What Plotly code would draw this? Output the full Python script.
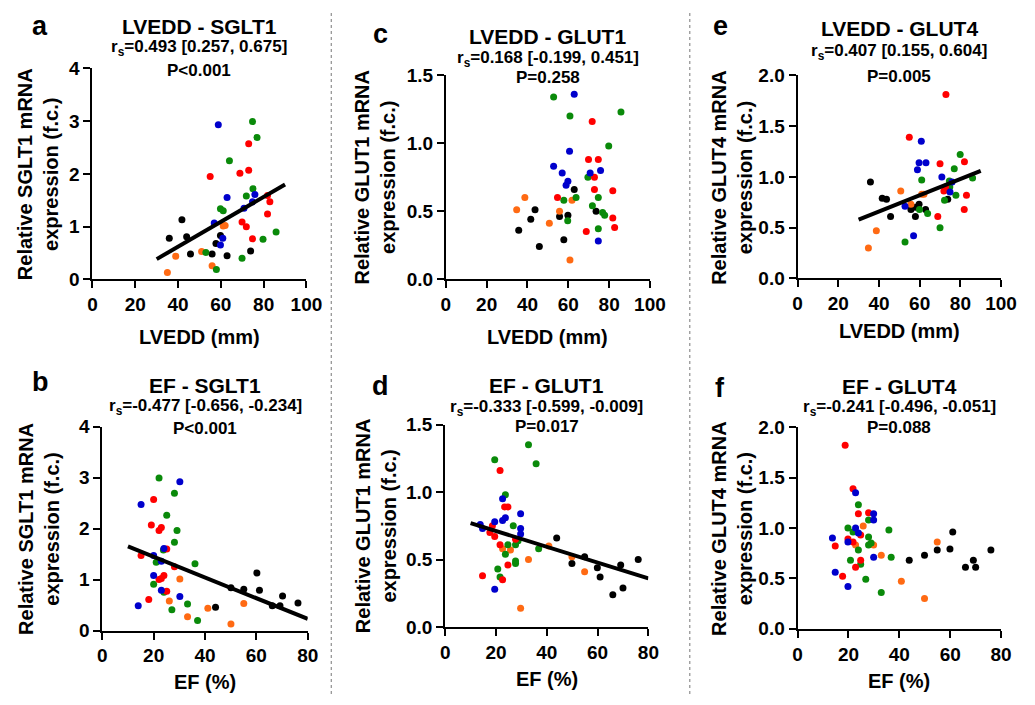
import plotly.graph_objects as go

W, H = 1035, 705

# group colours (k=black, o=orange, g=green, r=red, b=blue)
colours = {"k": "#000000", "o": "#FF6A13", "g": "#0A8A0A", "r": "#FF0000", "b": "#0000CC"}

# ---- a: LVEDD vs SGLT1
a_x = [58.8, 62.9, 75.9, 74.8, 70.8, 56.9, 60.9, 59.8,
       74.8, 76.9, 64.0, 75.0, 71.9, 59.8, 61.1, 85.8, 79.7, 53.0, 69.9, 57.9,
       73.0, 55.0, 68.9, 73.0, 81.8, 82.9, 81.8, 69.9, 71.9, 74.8,
       41.8, 35.9, 44.0, 59.8, 57.7, 45.8, 55.9, 62.9, 73.9,
       61.1, 62.0, 38.9, 51.0, 55.9, 35.0]
a_y = [2.93, 1.55, 1.61, 1.47, 1.35, 1.07, 0.78, 0.65,
       2.99, 2.69, 2.25, 1.72, 1.58, 1.34, 1.30, 0.90, 0.76, 0.51, 0.40, 0.19,
       2.57, 1.95, 2.01, 2.07, 1.59, 1.47, 1.24, 1.09, 1.00, 0.77,
       1.13, 0.78, 0.81, 0.83, 0.68, 0.48, 0.48, 0.45, 0.54,
       1.01, 1.02, 0.44, 0.53, 0.26, 0.13]
a_g = ["b"] * 8 + ["g"] * 12 + ["r"] * 10 + ["k"] * 9 + ["o"] * 6
a_fit_x = [30, 90]
a_fit_y = [0.385, 1.80]

# ---- b: EF vs SGLT1
b_x = [30.2, 15.1, 24.0, 20.0, 23.0, 20.0, 23.0, 30.2, 14.0,
       22.1, 28.1, 25.1, 29.1, 28.1, 23.8, 21.0, 36.1, 20.0, 24.0, 33.2, 27.1, 37.1,
       20.0, 19.1, 23.0, 22.1, 25.1, 15.1, 28.1, 24.0, 23.0, 22.1, 25.1, 18.1,
       60.2, 50.1, 55.1, 61.2, 70.2, 66.2, 69.2, 76.2, 44.1,
       30.2, 26.1, 55.1, 41.1, 33.2, 50.1]
b_y = [2.92, 2.47, 1.61, 1.47, 1.36, 1.08, 0.79, 0.67, 0.49,
       2.99, 2.69, 2.26, 1.96, 1.73, 1.58, 1.34, 1.31, 0.91, 0.75, 0.52, 0.41, 0.20,
       2.57, 2.07, 2.02, 1.96, 1.60, 1.47, 1.25, 1.08, 1.02, 1.00, 0.77, 0.61,
       1.13, 0.84, 0.81, 0.79, 0.68, 0.49, 0.49, 0.54, 0.46,
       1.01, 0.58, 0.53, 0.44, 0.27, 0.13]
b_g = ["b"] * 9 + ["g"] * 13 + ["r"] * 12 + ["k"] * 9 + ["o"] * 6
b_fit_x = [10, 80]
b_fit_y = [1.65, 0.23]

# ---- c: LVEDD vs GLUT1
c_x = [62.9, 60.6, 52.8, 57.0, 70.7, 75.8, 59.8, 58.9, 74.7,
       52.8, 60.8, 85.8, 79.8, 69.6, 57.8, 63.8, 74.7, 71.8, 76.8, 77.8, 59.7, 74.7,
       71.7, 69.9, 74.7, 72.8, 72.8, 81.8, 54.7, 81.8, 82.7, 68.8,
       62.9, 43.7, 73.6, 55.7, 59.8, 41.6, 35.7, 57.8, 45.8,
       38.7, 61.8, 34.7, 55.7, 50.7, 60.8]
c_y = [1.36, 0.94, 0.83, 0.78, 0.78, 0.80, 0.72, 0.69, 0.28,
       1.34, 1.20, 1.23, 0.98, 0.75, 0.58, 0.60, 0.60, 0.54, 0.49, 0.47, 0.43, 0.37,
       1.16, 0.88, 0.88, 0.75, 0.66, 0.65, 0.60, 0.45, 0.38, 0.35,
       0.66, 0.51, 0.50, 0.46, 0.47, 0.44, 0.36, 0.29, 0.24,
       0.60, 0.58, 0.51, 0.50, 0.41, 0.14]
c_g = ["b"] * 9 + ["g"] * 13 + ["r"] * 10 + ["k"] * 9 + ["o"] * 6

# ---- d: EF vs GLUT1
d_x = [22.6, 29.7, 23.7, 22.6, 19.5, 13.8, 14.7, 29.7, 29.7, 19.5,
       32.8, 35.8, 19.5, 23.7, 26.8, 28.7, 24.7, 27.7, 36.8, 23.7, 27.7, 27.7, 20.7, 21.6,
       21.6, 23.4, 24.7, 18.6, 17.6, 19.5, 27.7, 21.6, 24.7, 14.7, 22.6,
       43.9, 54.9, 76.0, 49.9, 69.1, 59.9, 61.0, 70.0, 66.0,
       40.8, 22.6, 25.7, 49.9, 32.8, 54.9, 29.7]
d_y = [0.95, 0.84, 0.81, 0.79, 0.78, 0.76, 0.73, 0.73, 0.69, 0.28,
       1.35, 1.21, 1.24, 0.98, 0.75, 0.64, 0.61, 0.61, 0.58, 0.54, 0.49, 0.47, 0.43, 0.37,
       1.16, 0.89, 0.89, 0.75, 0.70, 0.67, 0.65, 0.61, 0.46, 0.38, 0.35,
       0.66, 0.52, 0.50, 0.47, 0.46, 0.44, 0.37, 0.29, 0.24,
       0.60, 0.58, 0.57, 0.52, 0.50, 0.41, 0.14]
d_g = ["b"] * 10 + ["g"] * 14 + ["r"] * 11 + ["k"] * 9 + ["o"] * 7
d_fit_x = [10, 80]
d_fit_y = [0.77, 0.36]

# ---- e: LVEDD vs GLUT4
e_x = [60.8, 59.7, 63.1, 58.9, 70.9, 75.9, 74.9, 52.8, 57.0,
       79.9, 77.0, 86.0, 61.0, 74.6, 74.8, 77.8, 72.2, 59.9, 63.9, 70.0, 52.8,
       72.9, 54.9, 70.0, 82.0, 71.9, 72.7, 83.0, 81.9, 68.9,
       35.8, 41.6, 43.7, 73.8, 55.7, 59.7, 57.9, 62.9, 45.7, 57.9,
       50.7, 61.0, 62.1, 55.7, 38.7, 34.8]
e_y = [1.35, 1.14, 1.14, 1.07, 1.00, 0.95, 0.85, 0.71, 0.42,
       1.22, 1.08, 0.99, 0.97, 0.96, 0.90, 0.82, 0.77, 0.68, 0.64, 0.50, 0.36,
       1.81, 1.39, 1.13, 1.15, 0.86, 0.90, 0.82, 0.68, 0.61,
       0.95, 0.79, 0.78, 0.78, 0.68, 0.73, 0.70, 0.68, 0.61, 0.61,
       0.86, 0.83, 0.83, 0.73, 0.47, 0.30]
e_g = ["b"] * 9 + ["g"] * 12 + ["r"] * 9 + ["k"] * 10 + ["o"] * 6
e_fit_x = [30, 90]
e_fit_y = [0.58, 1.06]

# ---- f: EF vs GLUT4
f_x = [22.8, 29.9, 29.9, 22.8, 23.9, 13.7, 19.8, 29.9, 14.8, 19.8,
       23.9, 27.9, 19.8, 21.8, 35.9, 27.9, 27.9, 28.9, 23.9, 36.8, 20.8, 24.8, 26.8, 32.9,
       18.7, 21.8, 23.9, 27.9, 24.8, 19.8, 21.8, 14.8, 24.8, 22.8, 17.7,
       61.0, 54.9, 59.9, 76.0, 49.9, 43.9, 69.1, 66.0, 70.0,
       25.8, 54.9, 22.8, 29.9, 32.9, 40.8, 49.9]
f_y = [1.35, 1.14, 1.08, 1.00, 0.95, 0.90, 0.86, 0.71, 0.56, 0.42,
       1.23, 1.08, 1.00, 0.96, 0.98, 0.91, 0.83, 0.85, 0.78, 0.71, 0.68, 0.64, 0.49, 0.36,
       1.82, 1.39, 1.14, 1.15, 0.93, 0.89, 0.86, 0.82, 0.68, 0.61, 0.52,
       0.96, 0.78, 0.79, 0.78, 0.73, 0.68, 0.68, 0.61, 0.61,
       1.02, 0.86, 0.83, 0.83, 0.73, 0.47, 0.30]
f_g = ["b"] * 10 + ["g"] * 14 + ["r"] * 11 + ["k"] * 9 + ["o"] * 7

# panel layout, pixel boxes (x0, x1, ytop, ybottom) and label positions
panels = [
    dict(key="a", x=a_x, y=a_y, g=a_g, fx=a_fit_x, fy=a_fit_y, box=(89.3, 307.7, 60.1, 277.7),
         xr=100, yr=4, dy=1, fmt="d", title="LVEDD - SGLT1", rs="0.493 [0.257, 0.675]", p="P<0.001",
         xt="LVEDD (mm)", yt="SGLT1", lab=(36, 17), ty=(17, 39, 62), xty=337, ytx=34),
    dict(key="b", x=b_x, y=b_y, g=b_g, fx=b_fit_x, fy=b_fit_y, box=(99.3, 309.0, 429.3, 639.7),
         xr=80, yr=4, dy=1, fmt="d", title="EF - SGLT1", rs="-0.477 [-0.656, -0.234]", p="P<0.001",
         xt="EF (%)", yt="SGLT1", lab=(36, 383), ty=(387, 409, 431), xty=693, ytx=34),
    dict(key="c", x=c_x, y=c_y, g=c_g, fx=None, fy=None, box=(450.0, 658.3, 67.3, 277.3),
         xr=100, yr=1.5, dy=0.5, fmt=".1f", title="LVEDD - GLUT1", rs="0.168 [-0.199, 0.451]", p="P=0.258",
         xt="LVEDD (mm)", yt="GLUT1", lab=(383, 25), ty=(27, 50, 70), xty=337, ytx=378),
    dict(key="d", x=d_x, y=d_y, g=d_g, fx=d_fit_x, fy=d_fit_y, box=(449.3, 656.7, 427.3, 636.0),
         xr=80, yr=1.5, dy=0.5, fmt=".1f", title="EF - GLUT1", rs="-0.333 [-0.599, -0.009]", p="P=0.017",
         xt="EF (%)", yt="GLUT1", lab=(383, 388), ty=(387, 410, 429), xty=690, ytx=378),
    dict(key="e", x=e_x, y=e_y, g=e_g, fx=e_fit_x, fy=e_fit_y, box=(809.0, 1016.7, 67.3, 276.7),
         xr=100, yr=2, dy=0.5, fmt=".1f", title="LVEDD - GLUT4", rs="0.407 [0.155, 0.604]", p="P=0.005",
         xt="LVEDD (mm)", yt="GLUT4", lab=(730, 17), ty=(19, 43, 69), xty=331, ytx=742),
    dict(key="f", x=f_x, y=f_y, g=f_g, fx=None, fy=None, box=(809.0, 1016.7, 430.0, 637.7),
         xr=80, yr=2, dy=0.5, fmt=".1f", title="EF - GLUT4", rs="-0.241 [-0.496, -0.051]", p="P=0.088",
         xt="EF (%)", yt="GLUT4", lab=(730, 390), ty=(388, 410, 430), xty=692, ytx=742),
]

FONT = "Liberation Sans, Arial, sans-serif"


def px(x):
    return x / W


def py(y):
    return 1 - y / H


fig = go.Figure()
annotations = []

for i, p in enumerate(panels):
    n = "" if i == 0 else str(i + 1)
    xa, ya = "x" + n, "y" + n
    for grp in ["k", "o", "g", "r", "b"]:
        xs = [xv for xv, gv in zip(p["x"], p["g"]) if gv == grp]
        ys = [yv for yv, gv in zip(p["y"], p["g"]) if gv == grp]
        fig.add_trace(go.Scatter(x=xs, y=ys, mode="markers", xaxis=xa, yaxis=ya, cliponaxis=False,
                                 marker=dict(size=7, color=colours[grp]), showlegend=False))
    if p["fx"] is not None:
        fig.add_trace(go.Scatter(x=p["fx"], y=p["fy"], mode="lines", xaxis=xa, yaxis=ya,
                                 line=dict(color="black", width=4), showlegend=False))

    x0, x1, yt, yb = p["box"]
    axis_common = dict(showline=True, linewidth=2, linecolor="black", ticks="outside", ticklen=7,
                       tickwidth=2, tickcolor="black", showgrid=False, zeroline=False,
                       tickfont=dict(family=FONT, size=19, color="black", weight="bold"))
    fig.layout["xaxis" + n] = dict(domain=[px(x0), px(x1)], range=[0, p["xr"]], dtick=20,
                                   anchor=ya, **axis_common)
    fig.layout["yaxis" + n] = dict(domain=[py(yb), py(yt)], range=[0, p["yr"]], dtick=p["dy"],
                                   tickformat=p["fmt"], anchor=xa, **axis_common)

    cx = (x0 + x1) / 2
    def ann(text, x, y, size, angle=0):
        annotations.append(dict(text=text, x=px(x), y=py(y), xref="paper", yref="paper",
                                xanchor="center", yanchor="middle", showarrow=False, textangle=angle,
                                font=dict(family=FONT, size=size, color="black")))
    ann("<b>" + p["key"] + "</b>", p["lab"][0], p["lab"][1], 27)
    ann("<b>" + p["title"] + "</b>", cx, p["ty"][0], 21)
    ann("<b>r<sub>s</sub>=" + p["rs"] + "</b>", cx, p["ty"][1], 17)
    ann("<b>" + p["p"] + "</b>", cx, p["ty"][2], 17)
    ann("<b>" + p["xt"] + "</b>", cx, p["xty"], 20)
    ann("<b>Relative " + p["yt"] + " mRNA</b><br><b>expression (f.c.)</b>", p["ytx"], (yt + yb) / 2, 20, -90)

# dashed separators between the columns
shapes = [dict(type="line", xref="paper", yref="paper", x0=px(sx), x1=px(sx), y0=0, y1=1,
               line=dict(color="#777777", width=1, dash="dot")) for sx in [333, 699]]

fig.update_layout(width=W, height=H, margin=dict(l=0, r=0, t=0, b=0),
                  plot_bgcolor="white", paper_bgcolor="white",
                  annotations=annotations, shapes=shapes)

# page without the default body margin so the figure sits at the window origin
fig.write_html("out.html", config={"displayModeBar": False},
               post_script="document.body.style.margin='0';document.body.style.overflow='hidden';")
